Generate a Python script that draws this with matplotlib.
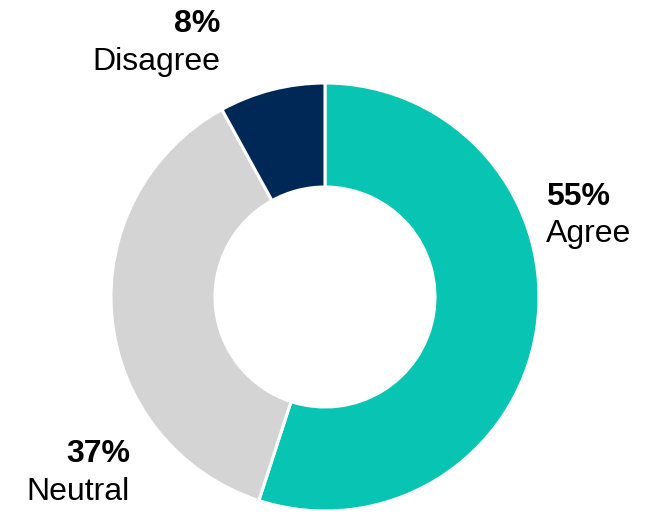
import matplotlib.pyplot as plt

plt.rcParams['font.family'] = ['Liberation Sans', 'DejaVu Sans']

# Data
labels = ['Agree', 'Neutral', 'Disagree']
shares = [55, 37, 8]
colors = ['#08C4B2', '#D4D4D4', '#002856']

W, H = 656, 519
fig = plt.figure(figsize=(W / 100, H / 100), dpi=100, facecolor='white')
ax = fig.add_axes([0, 0, 1, 1])

# donut, centre placed in pixel coordinates (y measured from bottom)
cx, cy, r = 325, H - 297, 214
ax.pie(shares, colors=colors, startangle=90, counterclock=False,
       center=(cx, cy), radius=r,
       wedgeprops=dict(width=104, edgecolor='white', linewidth=2.2))

ax.set_xlim(0, W)
ax.set_ylim(0, H)
ax.set_aspect('equal')
ax.axis('off')

# labels: (x, baseline of pct, baseline of name, alignment)
label_pos = {
    'Agree': (546, 205, 242, 'left'),
    'Neutral': (130, 462, 500, 'right'),
    'Disagree': (220, 32, 70, 'right'),
}
for lab, val in zip(labels, shares):
    x, y1, y2, ha = label_pos[lab]
    ax.text(x, H - y1, f'{val}%', ha=ha, va='baseline', fontsize=23,
            weight='bold', color='black')
    ax.text(x, H - y2, lab, ha=ha, va='baseline', fontsize=23, color='black')

fig.savefig('out.png', dpi=100, facecolor='white')
